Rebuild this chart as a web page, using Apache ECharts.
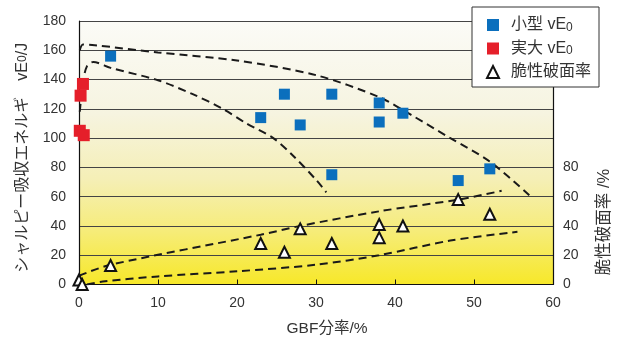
<!DOCTYPE html>
<html>
<head>
<meta charset="utf-8">
<script src="https://cdn.jsdelivr.net/npm/echarts@6/dist/echarts.min.js"></script>
<style>
  html, body { margin: 0; padding: 0; background: #fff; }
  #chart { width: 618px; height: 341px; }
</style>
</head>
<body>
<div id="chart"></div>
<script>
// Charpy absorbed energy vs. GBF fraction, with brittle fracture ratio on the right axis
const FONT = '"Liberation Sans", "Noto Sans CJK JP", sans-serif';

// [GBF fraction %, vE0 J] — small-size specimens
const smallVE0 = [
  [4, 156], [23, 114], [26, 130], [28, 109], [32, 130], [32, 75],
  [38, 124], [38, 111], [41, 117], [48, 71], [52, 79]
];
// [GBF fraction %, vE0 J] — full-size specimens
const fullVE0 = [
  [0.5, 137], [0.2, 129], [0.1, 105], [0.6, 102]
];
// [GBF fraction %, brittle fracture ratio %]
const brittleRatio = [
  [0, 3], [0.4, 0], [4, 13], [23, 28], [26, 22], [28, 38], [32, 28],
  [38, 41], [38, 32], [41, 40], [48, 58], [52, 48]
];

// dashed trend curves
const trendUpper = [
  [0.1, 160], [0.5, 164], [2, 163.5], [10, 158.5], [20, 153], [30, 143],
  [38, 128], [42, 116], [47, 100], [52, 84], [57, 61]
];
const trendInner = [
  [0.1, 118], [0.5, 138], [1, 149], [1.8, 152], [4, 148], [10, 139.5],
  [14.4, 130], [18.2, 120], [21.2, 110], [24.6, 100], [27.1, 88],
  [30.1, 71], [31.3, 63]
];
const trendBrittleHigh = [
  [0, 6], [4, 13.5], [23, 34], [28, 40], [38, 50], [48, 58], [53.5, 64]
];
const trendBrittleLow = [
  [1, 0], [3, 2], [10, 5.5], [20, 9], [30, 13.5], [38, 20], [47, 30], [55.5, 36]
];

const xTicks = { min: 0, max: 60, interval: 10 };
const yTicks = { min: 0, max: 180, interval: 20 };
const rightLabelMax = 80;

const dashed = (data) => ({
  type: 'line',
  data: data,
  smooth: 0.3,
  showSymbol: false,
  silent: true,
  lineStyle: { color: '#1a1a1a', width: 2, type: [8, 5] },
  z: 1
});

const chart = echarts.init(document.getElementById('chart'));
chart.setOption({
  animation: false,
  textStyle: { fontFamily: FONT },
  grid: {
    left: 79, right: 65, top: 21, bottom: 54,
    show: true,
    borderWidth: 0,
    backgroundColor: new echarts.graphic.LinearGradient(0, 0, 0, 1, [
      { offset: 0, color: '#fbfbf7' },
      { offset: 0.35, color: '#f6f4e0' },
      { offset: 0.6, color: '#f5efb6' },
      { offset: 0.8, color: '#f6ec78' },
      { offset: 1, color: '#f7e829' }
    ])
  },
  legend: {
    orient: 'vertical',
    left: 472, top: 7,
    padding: [10, 8, 7, 14],
    itemGap: 7,
    itemWidth: 12, itemHeight: 12,
    backgroundColor: '#fff',
    borderColor: '#333', borderWidth: 1,
    textStyle: {
      fontSize: 16, color: '#333', fontFamily: FONT,
      padding: [0, 0, 0, 7],
      rich: { sub: { fontSize: 12, padding: [5, 0, 0, 0], color: '#333' } }
    },
    formatter: (name) => name.replace('vE0', 'vE{sub|0}'),
    data: ['小型 vE0', '実大 vE0', '脆性破面率']
  },
  xAxis: {
    type: 'value',
    ...xTicks,
    name: 'GBF分率/%',
    nameLocation: 'middle',
    nameGap: 36,
    nameTextStyle: { fontSize: 15.5, color: '#333', padding: [0, 0, 0, 22] },
    axisLine: { show: true, lineStyle: { color: '#111', width: 1.2 } },
    axisTick: { show: true, inside: true, length: 5, lineStyle: { color: '#111' } },
    axisLabel: { fontSize: 14, color: '#333', margin: 12 },
    splitLine: { show: false }
  },
  yAxis: [
    {
      type: 'value',
      ...yTicks,
      name: 'シャルピー吸収エネルギ　vE{sub|0}/J',
      nameLocation: 'middle',
      nameRotate: 90,
      nameGap: 48,
      nameTextStyle: {
        fontSize: 16, color: '#333',
        padding: [0, 10, 0, 0],
        rich: { sub: { fontSize: 12, color: '#333' } }
      },
      axisLine: { show: true, lineStyle: { color: '#111', width: 1.2 } },
      axisTick: { show: false },
      axisLabel: { fontSize: 14, color: '#333', margin: 13 },
      splitLine: { show: true, lineStyle: { color: '#444', width: 1 } }
    },
    {
      type: 'value',
      position: 'right',
      ...yTicks,
      axisLine: { show: true, lineStyle: { color: '#111', width: 1.2 } },
      axisTick: { show: false },
      axisLabel: {
        fontSize: 14, color: '#333', margin: 10,
        formatter: (v) => (v <= rightLabelMax ? String(v) : '')
      },
      splitLine: { show: false }
    }
  ],
  graphic: [
    {
      type: 'text',
      x: 604, y: 222,
      rotation: Math.PI / 2,
      style: {
        text: '脆性破面率 /%',
        font: '16.5px ' + FONT,
        fill: '#333',
        align: 'center',
        verticalAlign: 'middle'
      }
    }
  ],
  series: [
    dashed(trendUpper),
    dashed(trendInner),
    Object.assign(dashed(trendBrittleHigh), { yAxisIndex: 1 }),
    Object.assign(dashed(trendBrittleLow), { yAxisIndex: 1 }),
    {
      name: '小型 vE0',
      type: 'scatter',
      data: smallVE0,
      symbol: 'rect',
      symbolSize: 11,
      itemStyle: { color: '#0b6fbd', opacity: 1 },
      z: 3
    },
    {
      name: '実大 vE0',
      type: 'scatter',
      data: fullVE0,
      symbol: 'rect',
      symbolSize: 12,
      clip: false,
      itemStyle: { color: '#e51f2a', opacity: 1 },
      z: 3
    },
    {
      name: '脆性破面率',
      type: 'scatter',
      yAxisIndex: 1,
      data: brittleRatio,
      symbol: 'triangle',
      symbolSize: 11,
      clip: false,
      itemStyle: { color: '#ffffff', borderColor: '#111', borderWidth: 2, opacity: 1 },
      z: 4
    }
  ]
});
</script>
</body>
</html>
